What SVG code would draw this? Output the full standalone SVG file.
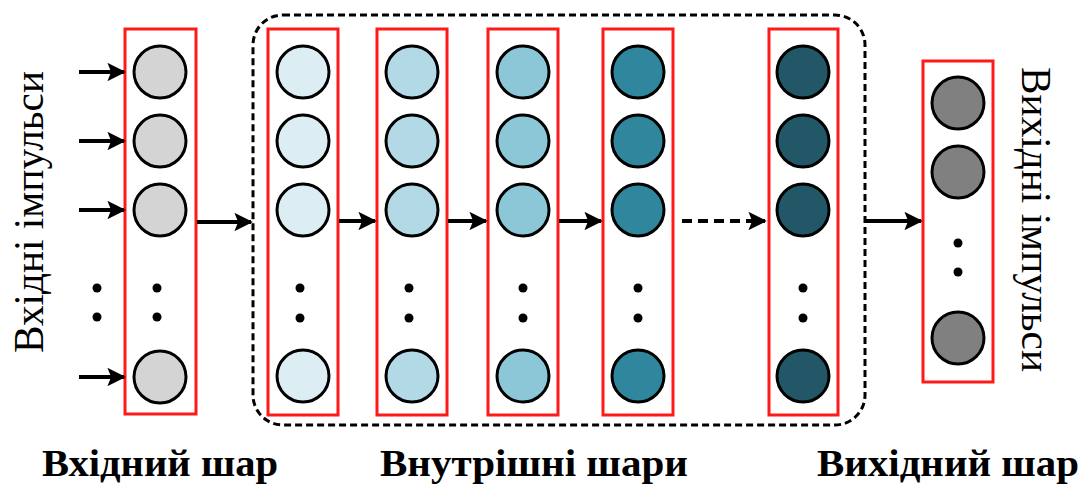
<svg xmlns="http://www.w3.org/2000/svg" width="1086" height="486" viewBox="0 0 1086 486">
  <defs>
    <marker id="ah" viewBox="0 0 10 10" refX="9" refY="5" markerWidth="4.6" markerHeight="4.6" orient="auto" markerUnits="strokeWidth">
      <path d="M0,0 L10,5 L0,10 L2,5 Z" fill="#000"/>
    </marker>
    <style>
      .layer { fill: none; stroke: #ff1a1a; stroke-width: 3; }
      .n { stroke: #000; stroke-width: 3; }
      .dot { fill: #000; }
      .arr { stroke: #000; stroke-width: 4; fill: none; marker-end: url(#ah); }
      .side { font-family: "Liberation Serif", "Times New Roman", serif; font-size: 42px; fill: #000; }
      .cap { font-family: "Liberation Serif", "Times New Roman", serif; font-size: 38px; font-weight: bold; fill: #000; }
      .in { fill: #d4d4d4; }
      .h1 { fill: #dcedf3; }
      .h2 { fill: #b2d9e5; }
      .h3 { fill: #8cc7d8; }
      .h4 { fill: #2f869d; }
      .h5 { fill: #225767; }
      .out { fill: #808080; }
    </style>
  </defs>

  <rect width="1086" height="486" fill="#fff"/>

  <!-- hidden-layer enclosure -->
  <rect id="hidden-group" x="253" y="15" width="612" height="410" rx="30" ry="30" fill="none" stroke="#000" stroke-width="3" stroke-dasharray="7 4"/>

  <!-- input layer -->
  <g id="input-layer">
    <rect class="layer" x="125" y="29" width="71" height="385"/>
    <circle class="n in" cx="160" cy="72" r="26"/>
    <circle class="n in" cx="160" cy="141" r="26"/>
    <circle class="n in" cx="160" cy="210" r="26"/>
    <circle class="n in" cx="160" cy="377" r="26"/>
    <circle class="dot" cx="157" cy="288" r="4.5"/>
    <circle class="dot" cx="157" cy="317" r="4.5"/>
    <circle class="dot" cx="97" cy="288" r="4.5"/>
    <circle class="dot" cx="97" cy="317" r="4.5"/>
  </g>

  <!-- hidden layers -->
  <g id="hidden-1">
    <rect class="layer" x="268" y="29" width="70" height="386"/>
    <circle class="n h1" cx="303" cy="72" r="26"/>
    <circle class="n h1" cx="303" cy="141" r="26"/>
    <circle class="n h1" cx="303" cy="210" r="26"/>
    <circle class="n h1" cx="303" cy="376" r="26"/>
    <circle class="dot" cx="300" cy="288" r="4.5"/>
    <circle class="dot" cx="300" cy="318" r="4.5"/>
  </g>
  <g id="hidden-2">
    <rect class="layer" x="377" y="29" width="70" height="386"/>
    <circle class="n h2" cx="412" cy="72" r="26"/>
    <circle class="n h2" cx="412" cy="141" r="26"/>
    <circle class="n h2" cx="412" cy="210" r="26"/>
    <circle class="n h2" cx="412" cy="376" r="26"/>
    <circle class="dot" cx="409" cy="288" r="4.5"/>
    <circle class="dot" cx="409" cy="318" r="4.5"/>
  </g>
  <g id="hidden-3">
    <rect class="layer" x="488" y="29" width="70" height="386"/>
    <circle class="n h3" cx="523" cy="72" r="26"/>
    <circle class="n h3" cx="523" cy="141" r="26"/>
    <circle class="n h3" cx="523" cy="210" r="26"/>
    <circle class="n h3" cx="523" cy="376" r="26"/>
    <circle class="dot" cx="523" cy="288" r="4.5"/>
    <circle class="dot" cx="523" cy="318" r="4.5"/>
  </g>
  <g id="hidden-4">
    <rect class="layer" x="603" y="29" width="70" height="386"/>
    <circle class="n h4" cx="638" cy="72" r="26"/>
    <circle class="n h4" cx="638" cy="141" r="26"/>
    <circle class="n h4" cx="638" cy="210" r="26"/>
    <circle class="n h4" cx="638" cy="376" r="26"/>
    <circle class="dot" cx="638" cy="288" r="4.5"/>
    <circle class="dot" cx="638" cy="318" r="4.5"/>
  </g>
  <g id="hidden-5">
    <rect class="layer" x="769" y="29" width="69" height="386"/>
    <circle class="n h5" cx="803" cy="72" r="26"/>
    <circle class="n h5" cx="803" cy="141" r="26"/>
    <circle class="n h5" cx="803" cy="210" r="26"/>
    <circle class="n h5" cx="803" cy="376" r="26"/>
    <circle class="dot" cx="803" cy="288" r="4.5"/>
    <circle class="dot" cx="803" cy="318" r="4.5"/>
  </g>

  <!-- output layer -->
  <g id="output-layer">
    <rect class="layer" x="923" y="61" width="70" height="321"/>
    <circle class="n out" cx="958" cy="103" r="26"/>
    <circle class="n out" cx="958" cy="172" r="26"/>
    <circle class="n out" cx="958" cy="338" r="26"/>
    <circle class="dot" cx="958" cy="243" r="4.5"/>
    <circle class="dot" cx="958" cy="272" r="4.5"/>
  </g>

  <!-- connectors -->
  <g id="connectors">
    <line class="arr" x1="79" y1="72" x2="124" y2="72"/>
    <line class="arr" x1="79" y1="141" x2="124" y2="141"/>
    <line class="arr" x1="79" y1="210" x2="124" y2="210"/>
    <line class="arr" x1="79" y1="377" x2="124" y2="377"/>
    <line class="arr" x1="197" y1="222" x2="251" y2="222"/>
    <line class="arr" x1="339" y1="221" x2="375" y2="221"/>
    <line class="arr" x1="448" y1="221" x2="486" y2="221"/>
    <line class="arr" x1="559" y1="221" x2="601" y2="221"/>
    <line class="arr" x1="682" y1="221" x2="765" y2="221" stroke-dasharray="10 6"/>
    <line class="arr" x1="864" y1="221" x2="921" y2="221"/>
  </g>

  <!-- labels -->
  <text class="side" transform="translate(43,353) rotate(-90)" textLength="282" lengthAdjust="spacingAndGlyphs">Вхідні імпульси</text>
  <text class="side" transform="translate(1022,67) rotate(90)" textLength="305" lengthAdjust="spacingAndGlyphs">Вихідні імпульси</text>
  <text class="cap" x="42" y="476" textLength="236" lengthAdjust="spacingAndGlyphs">Вхідний шар</text>
  <text class="cap" x="380" y="476" textLength="308" lengthAdjust="spacingAndGlyphs">Внутрішні шари</text>
  <text class="cap" x="817" y="476" textLength="262" lengthAdjust="spacingAndGlyphs">Вихідний шар</text>
</svg>
